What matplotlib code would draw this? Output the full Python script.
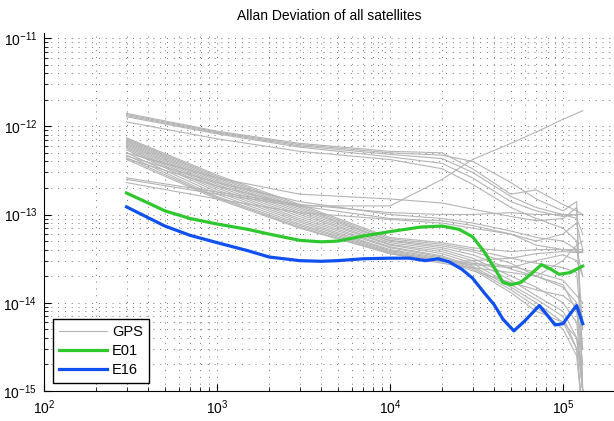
import numpy as np
import matplotlib
matplotlib.use('Agg')
import matplotlib.pyplot as plt

plt.rcParams['font.family'] = ['Liberation Sans', 'DejaVu Sans']
plt.rcParams['mathtext.fontset'] = 'custom'
plt.rcParams['mathtext.rm'] = 'Liberation Sans'

# Allan deviation values are given in units of 1e-15
unit = 1e-15

# averaging times for the GPS curves [s]
tau_gps = [300, 1000, 3000, 1e4, 2e4, 3e4, 5e4, 7e4, 1e5, 1.2e5, 1.3e5]

gps = [
    # upper group
    [1400, 880, 640, 520, 500, 330, 170, 190, 130, 110, 100],
    [1360, 860, 620, 500, 470, 400, 230, 150, 110, 140, 1],
    [1320, 840, 600, 480, 430, 300, 160, 120, 100, 90, 60],
    [1280, 820, 580, 450, 380, 260, 140, 110, 95, 100, 100],
    [1120, 720, 520, 420, 330, 220, 120, 90, 70, 50, 5],
    # drifting one
    [250, 170, 125, 125, 250, 420, 640, 860, 1200, 1400, 1500],
    [260, 180, 130, 105, 100, 100, 105, 100, 100, 100, 100],
    [230, 150, 105, 88, 80, 70, 60, 45, 40, 38, 38],
    # middle
    [500, 260, 170, 150, 135, 115, 95, 85, 90, 120, 1],
    [460, 230, 140, 100, 90, 80, 65, 55, 50, 40, 20],
    [430, 210, 125, 90, 85, 75, 60, 50, 60, 80, 40],
    # main bundle
    [740, 280, 130, 55, 48, 42, 38, 40, 40, 40, 40],
    [720, 270, 125, 53, 46, 40, 32, 28, 25, 22, 3],
    [700, 260, 120, 51, 44, 38, 28, 20, 15, 10, 1],
    [680, 250, 115, 50, 42, 35, 24, 20, 16, 8, 2],
    [660, 240, 110, 48, 40, 32, 20, 15, 10, 6, 1],
    [640, 230, 105, 46, 38, 30, 18, 12, 8, 4, 1],
    [620, 220, 100, 45, 36, 28, 16, 11, 7, 3, 0.5],
    [600, 210, 95, 43, 34, 26, 15, 10, 6, 3, 0.5],
    [580, 200, 90, 42, 33, 25, 14, 9, 5, 2.5, 0.5],
    [560, 190, 86, 40, 32, 24, 13, 8, 6, 4, 1],
    [540, 180, 82, 39, 31, 23, 17, 14, 12, 9, 3],
    [500, 170, 78, 38, 30, 27, 25, 30, 35, 30, 20],
    [470, 160, 75, 37, 29, 30, 32, 36, 38, 37, 37],
    [440, 155, 72, 36, 28, 25, 22, 20, 30, 45, 50],
    [420, 150, 70, 36, 30, 28, 26, 22, 18, 12, 10],
]

tau_e01 = [300, 400, 500, 700, 1000, 1500, 2000, 3000, 4000, 5000, 7000, 1e4,
           1.5e4, 2e4, 2.5e4, 3e4, 3.5e4, 4e4, 4.5e4, 5e4, 5.7e4, 6.5e4,
           7.5e4, 8.5e4, 9.5e4, 1.1e5, 1.3e5]
e01 = [175, 135, 110, 90, 78, 68, 60, 51, 49, 50, 57, 64,
       72, 74, 68, 56, 38, 25, 17, 16, 17, 21,
       27, 24, 21, 22, 26]

tau_e16 = [300, 400, 500, 700, 1000, 1500, 2000, 3000, 4000, 5000, 7000, 1e4,
           1.3e4, 1.6e4, 1.9e4, 2.2e4, 2.6e4, 3e4, 3.5e4, 4e4, 4.5e4, 5.2e4,
           6e4, 7.3e4, 8e4, 9e4, 1e5, 1.1e5, 1.2e5, 1.3e5]
e16 = [122, 92, 74, 58, 48, 39, 33, 30, 29.5, 30, 31.5, 32,
       32, 30, 31.5, 29, 24, 19, 13, 9.5, 6.5, 4.8,
       6.2, 9.3, 7.5, 5.6, 5.8, 7.5, 9.3, 5.8]

xticks = [1e2, 1e3, 1e4, 1e5]
yticks = [1e-15, 1e-14, 1e-13, 1e-12, 1e-11]

fig = plt.figure(figsize=(6.14, 4.21), dpi=100)
ax = fig.add_axes([44/614, 30/421, 570/614, 358/421])

for i, g in enumerate(gps):
    ax.plot(tau_gps, np.array(g) * unit, color='#b4b4b4', lw=0.8,
            label='GPS' if i == 0 else None)
ax.plot(tau_e01, np.array(e01) * unit, color='#2ec82e', lw=2.3, label='E01')
ax.plot(tau_e16, np.array(e16) * unit, color='#1050f0', lw=2.3, label='E16')

ax.set_xscale('log')
ax.set_yscale('log')
ax.set_xticks(xticks)
ax.set_yticks(yticks)
ax.set_xlim(1e2, 10**(2 + 570/173))
ax.set_ylim(1e-15, 1e-11 * 10**(5/88.25))

ax.grid(True, which='both', linestyle=(0, (1, 6)), linewidth=0.7, color='0.45')
ax.tick_params(which='both', direction='in', labelsize=10)
ax.tick_params(which='major', length=5, pad=5)
ax.tick_params(which='minor', length=3)
ax.spines['top'].set_visible(False)
ax.spines['right'].set_visible(False)

ax.set_title('Allan Deviation of all satellites', fontsize=10, pad=9)

leg = ax.legend(loc='lower left', bbox_to_anchor=(0.016, 0.022), borderaxespad=0,
                fontsize=10.5, handlelength=3.3, handletextpad=0.35,
                labelspacing=0.35, fancybox=False, framealpha=1, edgecolor='black')
leg.get_frame().set_linewidth(1.0)

fig.savefig('out.png', dpi=100)
